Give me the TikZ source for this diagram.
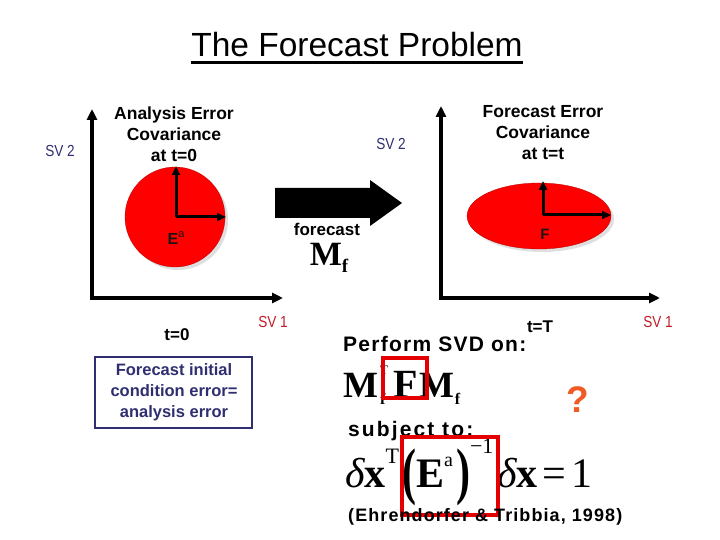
\documentclass[tikz,border=0pt]{standalone}
\usepackage{fontspec}
\setmainfont{Liberation Sans}
\newfontfamily\tnr{Liberation Serif}
\usetikzlibrary{arrows.meta,shapes.geometric}
\definecolor{navy}{RGB}{46,46,112}
\definecolor{svred}{RGB}{192,28,40}
\definecolor{qorange}{RGB}{240,90,36}
\definecolor{boxred}{RGB}{228,0,0}
\definecolor{blobred}{RGB}{255,0,0}
\definecolor{dark}{RGB}{30,20,20}
\newcommand{\fs}[1]{\fontsize{#1}{#1}\selectfont}
\begin{document}
\begin{tikzpicture}[x=1pt,y=-1pt,
  axis/.style={line width=4pt, line join=miter, {Triangle[length=11pt,width=10pt]}-{Triangle[length=11pt,width=10pt]}},
  inner/.style={line width=3pt, -{Triangle[length=9pt,width=8pt]}},
  headlbl/.style={font=\bfseries\fontsize{17.5}{21}\selectfont, align=center, inner sep=0, anchor=base},
  svlabel/.style={font=\fs{16}, inner sep=0, anchor=base},
  bolds/.style={font=\bfseries, inner sep=0, anchor=base},
  redbox/.style={draw=boxred, line width=3.2pt},
  blob/.style={fill=blobred, draw=blobred!70!black, line width=0.3pt},
  shadow/.style={fill=black!25, opacity=0.5},
]
\useasboundingbox (0,0) rectangle (720,540);
% title
\node[inner sep=0, anchor=base, font=\fs{33.5}] (title) at (357,57) {The Forecast Problem};
\draw[line width=2.6pt] ([yshift=-5.5pt]title.base west) -- ([yshift=-5.5pt]title.base east);

% left panel
\coordinate (ly) at (92,109);
\coordinate (lo) at (92,298);
\coordinate (lx) at (283,298);
\draw[axis] (ly) -- (lo) -- (lx);
\fill[shadow] (178,220) circle (50);
\node[blob, circle, minimum size=100pt, inner sep=0] (ea) at (175,217) {};
\coordinate (c1) at (176,217);
\coordinate (c1u) at (176,166);
\coordinate (c1r) at (226,217);
\draw[inner] (c1) -- (c1u);
\draw[inner] (c1) -- (c1r);
\node[bolds, text=dark, font=\bfseries\fs{16}] (ealbl) at (176,244) {E\raisebox{0.42em}{\mdseries\fs{11}a}};
\node[headlbl] (atitle) at (174,162) {Analysis Error\\Covariance\\at t=0};
\node[svlabel, text=navy] (sv2l) at (60,157) {\scalebox{0.85}[1]{SV 2}};
\node[svlabel, text=svred] (sv1l) at (273,327) {\scalebox{0.85}[1]{SV 1}};
\node[bolds, font=\bfseries\fs{17}] (t0) at (177,340) {t=0};
\node[draw=navy, line width=1.3pt, minimum width=157pt, minimum height=71pt, inner sep=0] (icbox) at (173.5,392.5) {};
\node[headlbl, text=navy, font=\bfseries\fontsize{16.5}{21}\selectfont] (ictext) at (174,417) {Forecast initial\\condition error=\\analysis error};

% big arrow
\fill (275,188) -- (370,188) -- (370,180) -- (402,203) -- (370,226) -- (370,218) -- (275,218) -- cycle;
\node[bolds, font=\bfseries\fs{17}] (fc) at (327,236) {forecast};
\node[inner sep=0, anchor=base, font=\tnr\bfseries\fs{34}] (mf) at (329,265) {M\raisebox{-0.22em}{\fs{19}f}};

% right panel
\coordinate (ry) at (441,106);
\coordinate (ro) at (441,298);
\coordinate (rx) at (660,298);
\draw[axis] (ry) -- (ro) -- (rx);
\fill[shadow] (542,219) ellipse [x radius=72, y radius=33];
\node[blob, ellipse, minimum width=144pt, minimum height=66pt, inner sep=0] (fe) at (539,216) {};
\coordinate (c2) at (543,215);
\coordinate (c2u) at (543,181);
\coordinate (c2r) at (611,215);
\draw[inner] (c2) -- (c2u);
\draw[inner] (c2) -- (c2r);
\node[bolds, text=dark, font=\bfseries\fs{15}] (flbl) at (545,240) {F};
\node[headlbl] (ftitle) at (543,160) {Forecast Error\\Covariance\\at t=t};
\node[svlabel, text=navy] (sv2r) at (391,150) {\scalebox{0.85}[1]{SV 2}};
\node[svlabel, text=svred] (sv1r) at (658,327) {\scalebox{0.85}[1]{SV 1}};
\node[bolds, font=\bfseries\fs{17}] (tT) at (540,332) {t=T};

% SVD part
\node[bolds, anchor=base west, font=\bfseries\fs{21}\addfontfeature{LetterSpace=6}] (svd) at (343,351) {Perform SVD on:};
\node[inner sep=0, anchor=base west, font=\tnr\bfseries\fs{37}] (mfm) at (343,397)
  {M\hspace{2pt}\rlap{\raisebox{0.62em}{\mdseries\fs{13}T}}\raisebox{-0.2em}{\fs{16}f}\hspace{8pt}{\fs{40}F}\hspace{2pt}M\raisebox{-0.2em}{\fs{16}f}};
\node[redbox, minimum width=44pt, minimum height=40pt, inner sep=0] (rb1) at (405,378) {};
\node[inner sep=0, anchor=base, font=\bfseries\fs{37}, text=qorange] (q) at (578,412) {?};
\node[bolds, anchor=base west, font=\bfseries\fs{21}\addfontfeature{LetterSpace=10}] (subj) at (348,436) {subject to:};
\node[inner sep=0, anchor=base west, font=\tnr\fs{42}] (cons) at (345,487)
  {{\itshape δ}{\bfseries x}\raisebox{0.55em}{\fs{22}T}\hspace{3pt}\raisebox{-0.13em}{\scalebox{1}[1.5]{\bfseries(}}{\bfseries E}\raisebox{0.5em}{\fs{20}a}\hspace{3pt}\raisebox{-0.13em}{\scalebox{1}[1.5]{\bfseries)}}\raisebox{0.8em}{\fs{22}−1}\hspace{4pt}{\itshape δ}{\bfseries x}\hspace{5pt}=\hspace{5pt}1};
\node[redbox, minimum width=96pt, minimum height=78pt, inner sep=0] (rb2) at (450,476) {};
\node[bolds, anchor=base west, font=\bfseries\fs{18}\addfontfeature{LetterSpace=6}] (cite) at (348,521) {(Ehrendorfer \& Tribbia, 1998)};
\end{tikzpicture}
\end{document}
